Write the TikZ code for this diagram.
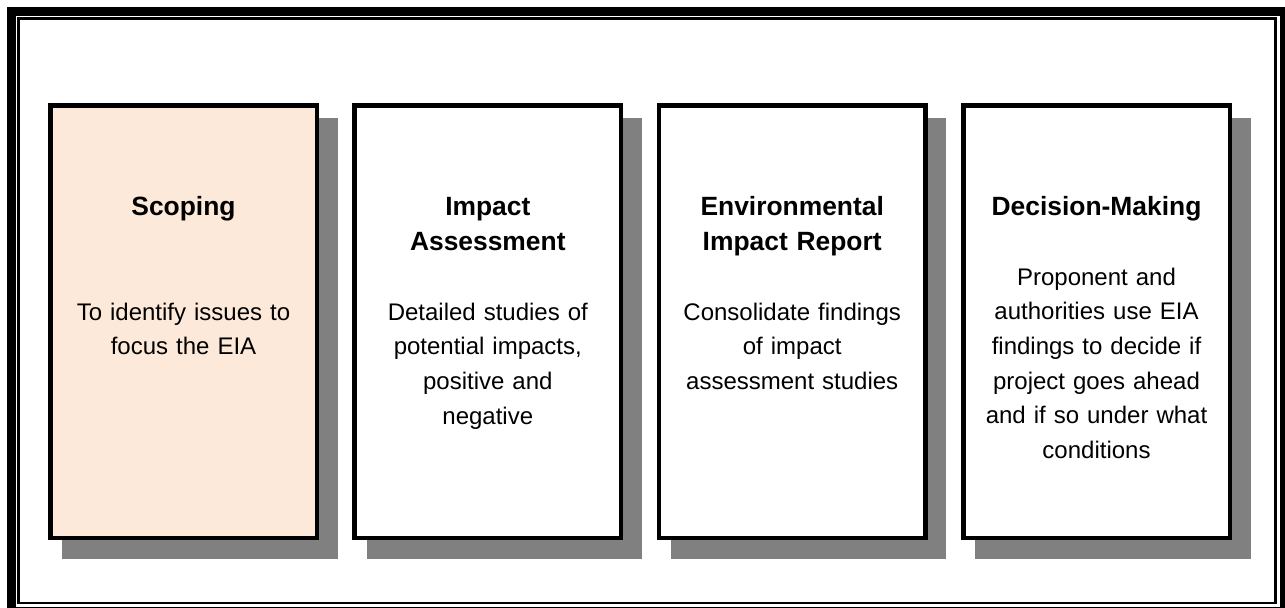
\documentclass[tikz,border=0pt]{standalone}
\usepackage{fontspec}
\setmainfont{Liberation Sans}
\usetikzlibrary{calc,backgrounds}
\definecolor{peach}{RGB}{253,233,217}
\definecolor{shadowgray}{RGB}{128,128,128}
\begin{document}
\begin{tikzpicture}[x=0.5pt,y=-0.5pt,
  stagebox/.style={draw=black, line width=2.25pt, fill=white, inner sep=0pt,
    minimum width=133.25pt, minimum height=216.25pt},
  stagetitle/.style={anchor=base, align=center, text width=125pt, inner sep=0pt,
    font=\fontsize{13.2}{17.5}\selectfont\bfseries},
  stagetext/.style={anchor=base, align=center, text width=125pt, inner sep=0pt,
    font=\fontsize{12}{17.35}\selectfont},
]
\useasboundingbox (0,0) rectangle (1285,607);

% double frame around the whole chart
\draw[line width=4.5pt] (11.5,11.5) rectangle (1284.5,611.5);
\draw[line width=1.4pt] (18.7,18.7) rectangle (1275.5,603);

% the four stages
\node[stagebox, fill=peach] (b1) at (183.5,321.5) {};
\node[stagebox] (b2) at (487.8,321.5) {};
\node[stagebox] (b3) at (792.2,321.5) {};
\node[stagebox] (b4) at (1096.5,321.5) {};

% drop shadows behind the stages
\begin{scope}[on background layer]
  \foreach \b in {b1,b2,b3,b4}
    \fill[shadowgray] ($(\b.north west)+(14.25,14.75)$) rectangle ($(\b.south east)+(18.75,19.25)$);
\end{scope}

% titles
\node[stagetitle] (t1) at (183.5,215) {Scoping};
\node[stagetitle] (t2) at (487.8,215) {Impact\\Assessment};
\node[stagetitle] (t3) at (792.2,215) {Environmental\\Impact Report};
\node[stagetitle] (t4) at (1096.5,215) {Decision-Making};

% descriptions
\node[stagetext] (d1) at (183.5,320) {To identify issues to\\focus the EIA};
\node[stagetext] (d2) at (487.8,320) {Detailed studies of\\potential impacts,\\positive and\\negative};
\node[stagetext] (d3) at (792.2,320) {Consolidate findings\\of impact\\assessment studies};
\node[stagetext] (d4) at (1096.5,285) {Proponent and\\authorities use EIA\\findings to decide if\\project goes ahead\\and if so under what\\conditions};
\end{tikzpicture}
\end{document}
